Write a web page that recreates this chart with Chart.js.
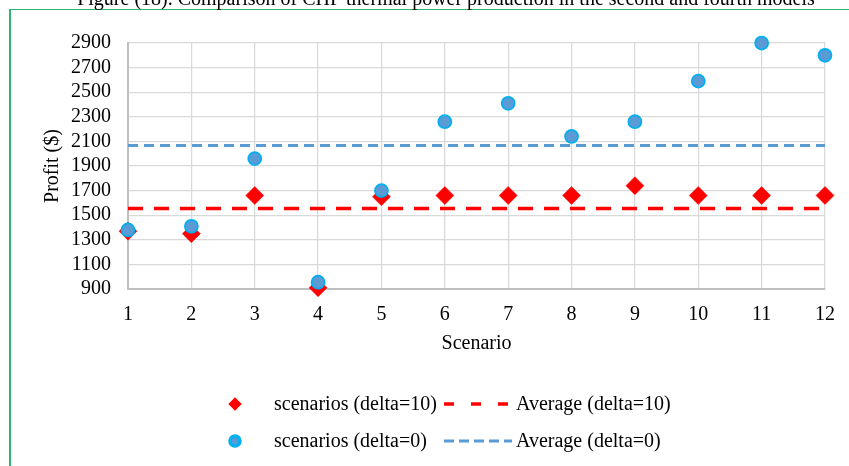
<!DOCTYPE html>
<html>
<head>
<meta charset="utf-8">
<title>Profit by scenario</title>
<script src="https://cdn.jsdelivr.net/npm/chart.js@4.4.1/dist/chart.umd.min.js"></script>
<style>
  body { margin: 0; background: #fff; }
  canvas { display: block; }
</style>
</head>
<body>
<canvas id="profitChart" width="849" height="466"></canvas>
<script>
const caption = 'Figure (18). Comparison of CHP thermal power production in the second and fourth models';
const scenarios = ['1', '2', '3', '4', '5', '6', '7', '8', '9', '10', '11', '12'];
const profitDelta10 = [1370, 1350, 1660, 910, 1650, 1660, 1660, 1660, 1740, 1660, 1660, 1660];
const profitDelta0 = [1380, 1410, 1960, 955, 1700, 2260, 2410, 2140, 2260, 2590, 2900, 2800];
const avgDelta10 = 1555;
const avgDelta0 = 2066;
const yMin = 900;
const yMax = 2900;
const yStep = 200;

const serif = '"Liberation Serif", "Times New Roman", serif';
const red = '#ff0000';
const blue = '#5b9bd5';
const cyan = '#00b0f0';

// frame, caption and the two-column legend underneath the plot
const decorations = {
  id: 'decorations',
  beforeDraw(chart) {
    const ctx = chart.ctx;
    ctx.save();
    ctx.fillStyle = '#fff';
    ctx.fillRect(0, 0, chart.width, chart.height);
    ctx.strokeStyle = '#2fb46e';
    ctx.lineWidth = 1;
    ctx.beginPath();
    ctx.moveTo(9, 9.5);
    ctx.lineTo(chart.width, 9.5);
    ctx.stroke();
    ctx.lineWidth = 2;
    ctx.beginPath();
    ctx.moveTo(10, 9);
    ctx.lineTo(10, chart.height);
    ctx.stroke();
    ctx.fillStyle = '#000';
    ctx.font = '20px ' + serif;
    ctx.textAlign = 'center';
    ctx.textBaseline = 'alphabetic';
    ctx.fillText(caption, 446, 4.5);
    ctx.restore();
  },
  afterDraw(chart) {
    const ctx = chart.ctx;
    const ds = chart.data.datasets;
    const rows = [
      { y: 404, point: ds[1], line: ds[2], radius: 5.5, dash: [10, 17] },
      { y: 441, point: ds[0], line: ds[3], radius: 5, dash: [10, 5] }
    ];
    ctx.save();
    ctx.font = '20px ' + serif;
    ctx.textBaseline = 'middle';
    ctx.textAlign = 'left';
    rows.forEach(r => {
      ctx.fillStyle = r.point.pointBackgroundColor;
      ctx.strokeStyle = r.point.pointBorderColor;
      Chart.helpers.drawPoint(ctx, {
        pointStyle: r.point.pointStyle,
        radius: r.radius,
        rotation: 0,
        borderWidth: r.point.pointBorderWidth
      }, 235, r.y);

      ctx.fillStyle = '#000';
      ctx.fillText(r.point.label, 274, r.y + 1);

      ctx.strokeStyle = r.line.borderColor;
      ctx.lineWidth = r.line.borderWidth;
      ctx.setLineDash(r.dash);
      ctx.beginPath();
      ctx.moveTo(444, r.y);
      ctx.lineTo(512, r.y);
      ctx.stroke();
      ctx.setLineDash([]);

      ctx.fillStyle = '#000';
      ctx.fillText(r.line.label, 516, r.y + 1);
    });
    ctx.restore();
  }
};

const ctx = document.getElementById('profitChart').getContext('2d');
new Chart(ctx, {
  type: 'line',
  data: {
    labels: scenarios,
    datasets: [
      {
        label: 'scenarios (delta=0)',
        data: profitDelta0,
        showLine: false,
        pointStyle: 'circle',
        pointRadius: 6.5,
        pointBackgroundColor: blue,
        pointBorderColor: cyan,
        pointBorderWidth: 1.75,
        clip: false,
        order: 0
      },
      {
        label: 'scenarios (delta=10)',
        data: profitDelta10,
        showLine: false,
        pointStyle: 'rectRot',
        pointRadius: 9,
        pointBackgroundColor: red,
        pointBorderColor: red,
        pointBorderWidth: 0.5,
        clip: false,
        order: 1
      },
      {
        label: 'Average (delta=10)',
        data: scenarios.map(() => avgDelta10),
        borderColor: red,
        borderWidth: 3.5,
        borderDash: [15, 11],
        pointRadius: 0,
        fill: false,
        order: 2
      },
      {
        label: 'Average (delta=0)',
        data: scenarios.map(() => avgDelta0),
        borderColor: blue,
        borderWidth: 3,
        borderDash: [10, 6],
        pointRadius: 0,
        fill: false,
        order: 3
      }
    ]
  },
  options: {
    responsive: false,
    animation: false,
    events: [],
    layout: { padding: { top: 43, right: 24, bottom: 0, left: 0 } },
    plugins: {
      legend: { display: false },
      tooltip: { enabled: false }
    },
    scales: {
      x: {
        type: 'category',
        offset: false,
        grid: { color: '#d9d9d9', lineWidth: 1.25, drawTicks: false, offset: false },
        border: { color: '#bfbfbf', width: 2 },
        ticks: {
          color: '#000',
          padding: 14,
          maxRotation: 0,
          autoSkip: false,
          font: { family: serif, size: 20 }
        },
        title: {
          display: true,
          text: 'Scenario',
          color: '#000',
          font: { family: serif, size: 20 },
          padding: { top: 0, bottom: 110 }
        },
        afterFit(scale) { scale.height = 466 - 289; }
      },
      y: {
        min: yMin,
        max: yMax,
        grid: { color: '#d9d9d9', lineWidth: 1.25, drawTicks: false },
        border: { color: '#bfbfbf', width: 2 },
        ticks: {
          stepSize: yStep,
          autoSkip: false,
          color: '#000',
          padding: 17,
          font: { family: serif, size: 20 },
          callback: value => String(value)
        },
        title: {
          display: true,
          text: 'Profit ($)',
          color: '#000',
          font: { family: serif, size: 20 },
          padding: { top: 41, bottom: 0 }
        },
        afterFit(scale) { scale.width = 128; }
      }
    }
  },
  plugins: [decorations]
});
</script>
</body>
</html>
